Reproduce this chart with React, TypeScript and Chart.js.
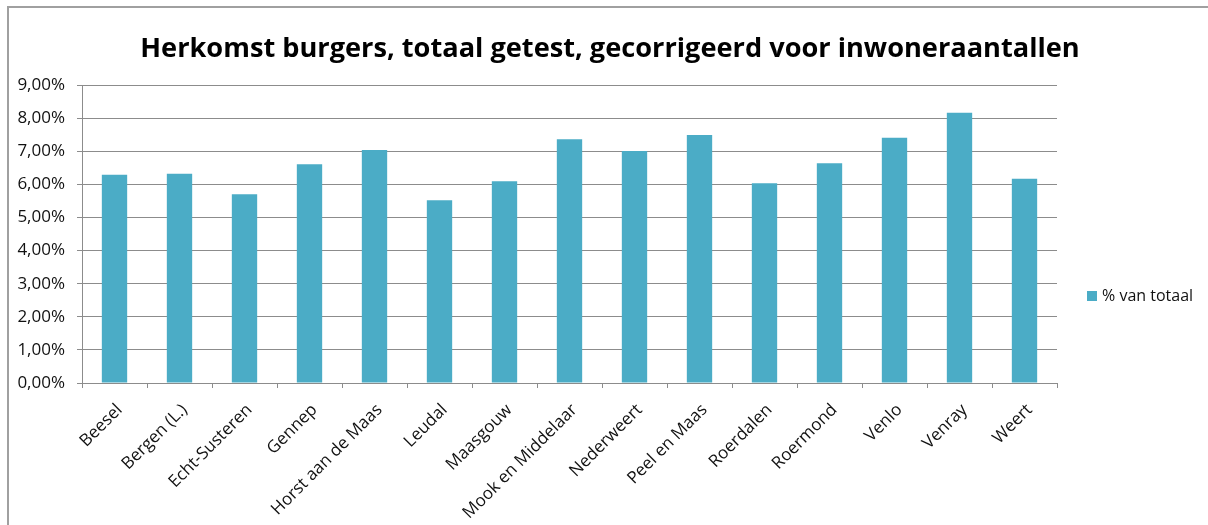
import React, { useEffect, useRef } from "react";
import { Chart, registerables } from "chart.js";

Chart.register(...registerables);

const chartTitle = "Herkomst burgers, totaal getest, gecorrigeerd voor inwoneraantallen";
const seriesLabel = "% van totaal";
const categories = [
  "Beesel",
  "Bergen (L.)",
  "Echt-Susteren",
  "Gennep",
  "Horst aan de Maas",
  "Leudal",
  "Maasgouw",
  "Mook en Middelaar",
  "Nederweert",
  "Peel en Maas",
  "Roerdalen",
  "Roermond",
  "Venlo",
  "Venray",
  "Weert",
];
const values = [6.29, 6.32, 5.7, 6.61, 7.04, 5.52, 6.09, 7.36, 7.01, 7.49, 6.03, 6.64, 7.41, 8.16, 6.17];
const yMin = 0;
const yMax = 9;
const yStep = 1;

const barColor = "#4BACC6";
const gridColor = "#8c8c8c";
const textColor = "#111111";
const fontFamily = "'Open Sans', sans-serif";

export default function App() {
  const ref = useRef<HTMLCanvasElement>(null);

  useEffect(() => {
    const canvas = ref.current!;
    const decor = {
      id: "decor",
      beforeDraw(chart: any) {
        const ctx = chart.ctx;
        ctx.save();
        ctx.fillStyle = "#ffffff";
        ctx.fillRect(0, 0, chart.width, chart.height);
        ctx.strokeStyle = "#a0a0a0";
        ctx.lineWidth = 2;
        ctx.beginPath();
        ctx.moveTo(8, chart.height);
        ctx.lineTo(8, 7);
        ctx.lineTo(chart.width, 7);
        ctx.stroke();
        ctx.restore();
      },
      afterDraw(chart: any) {
        const ctx = chart.ctx;
        ctx.save();
        // title
        ctx.fillStyle = "#000000";
        ctx.font = `bold 27.2px ${fontFamily}`;
        ctx.textAlign = "center";
        ctx.textBaseline = "alphabetic";
        ctx.fillText(chartTitle, 610, 57);
        // legend
        const ds = chart.data.datasets[0];
        ctx.fillStyle = ds.backgroundColor;
        ctx.fillRect(1087, 291, 10, 10);
        ctx.fillStyle = textColor;
        ctx.font = `16px ${fontFamily}`;
        ctx.textAlign = "left";
        ctx.textBaseline = "middle";
        ctx.fillText(ds.label, 1102, 296);
        ctx.restore();
      },
    };

    const chart = new Chart(canvas, {
      type: "bar",
      data: {
        labels: categories,
        datasets: [
          {
            label: seriesLabel,
            data: values,
            backgroundColor: barColor,
            barPercentage: 0.39,
            categoryPercentage: 1,
          },
        ],
      },
      options: {
        responsive: false,
        animation: false,
        devicePixelRatio: 1,
        layout: { padding: { top: 85, right: 151, left: 0, bottom: 0 } },
        plugins: {
          legend: { display: false },
          title: { display: false },
          tooltip: { enabled: false },
        },
        scales: {
          x: {
            grid: {
              offset: true,
              drawOnChartArea: false,
              drawTicks: true,
              tickLength: 5,
              color: gridColor,
            },
            border: { color: gridColor },
            ticks: {
              autoSkip: false,
              maxRotation: 45,
              minRotation: 45,
              color: textColor,
              font: { family: fontFamily, size: 17 },
              padding: 12,
              labelOffset: 5,
            },
            afterFit(scale: any) {
              scale.height = 142;
            },
          },
          y: {
            min: yMin,
            max: yMax,
            ticks: {
              stepSize: yStep,
              color: textColor,
              font: { family: fontFamily, size: 17 },
              padding: 12,
              callback: (v: any) => Number(v).toFixed(2).replace(".", ",") + "%",
            },
            grid: {
              color: gridColor,
              tickLength: 5,
              drawTicks: true,
            },
            border: { color: gridColor },
            afterFit(scale: any) {
              scale.width = 82;
            },
          },
        },
      },
      plugins: [decor],
    });
    return () => chart.destroy();
  }, []);

  return (
    <canvas
      ref={ref}
      width={1208}
      height={525}
      style={{ position: "absolute", left: 0, top: 0, display: "block", width: 1208, height: 525 }}
    />
  );
}
